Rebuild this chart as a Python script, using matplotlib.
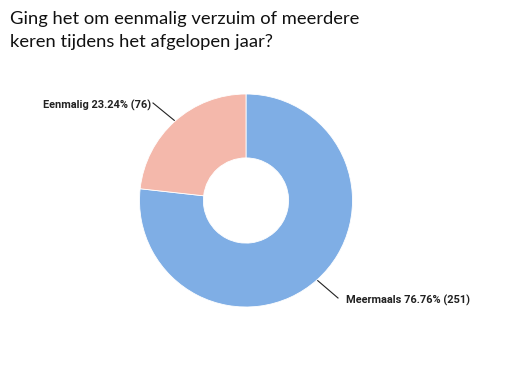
import numpy as np
import matplotlib.pyplot as plt

title = "Ging het om eenmalig verzuim of meerdere\nkeren tijdens het afgelopen jaar?"
categories = ["Meermaals", "Eenmalig"]
counts = [251, 76]
percentages = [76.76, 23.24]
colors = ["#7faee5", "#f4b8ab"]

fig = plt.figure(figsize=(5.2, 3.71), dpi=100)
fig.text(10 / 520, 1 - 11 / 371, title, ha="left", va="top", fontsize=13.2,
         family="Lato", color="#111111", linespacing=1.5)

# pie centre (246, 200) px, radius 107 px
cx, cy, r = 246, 200.5, 106.5
ax = fig.add_axes([(cx - r) / 520, (371 - cy - r) / 371, 2 * r / 520, 2 * r / 371])
wedges, _ = ax.pie(counts, colors=colors, startangle=90, counterclock=False,
                   radius=1, wedgeprops=dict(width=0.6, linewidth=0.6,
                                             edgecolor="white"))
ax.set_xlim(-1, 1)
ax.set_ylim(-1, 1)
ax.set_aspect("equal")
ax.axis("off")

# label anchor (px) and leader line start (px)
text_pos = {"Meermaals": (346, 300, "left", 338, 298),
            "Eenmalig": (151, 105, "right", 153, 103)}

for w, cat, pct, n in zip(wedges, categories, percentages, counts):
    ang = np.deg2rad((w.theta1 + w.theta2) / 2)
    x, y = np.cos(ang) * 1.01, np.sin(ang) * 1.01
    tx, ty, ha, lx, ly = text_pos[cat]
    ax.text((tx - cx) / r, (cy - ty) / r, f"{cat} {pct:.2f}% ({n})",
            ha=ha, va="center", fontsize=7.9, fontweight="bold",
            family="Roboto", color="#222222", clip_on=False)
    ax.plot([(lx - cx) / r, x], [(cy - ly) / r, y], color="#222222",
            lw=0.8, clip_on=False)

fig.savefig("out.png", dpi=100)
